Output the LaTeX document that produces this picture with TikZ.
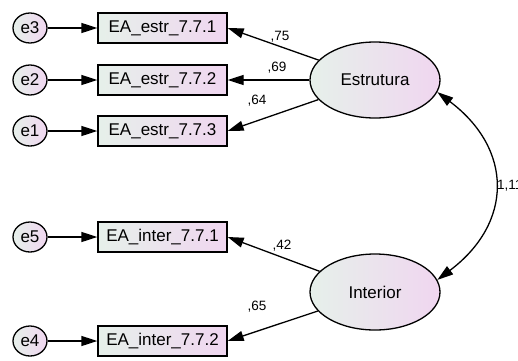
\documentclass[tikz,border=0pt]{standalone}
\usepackage{fontspec}
\setmainfont{Liberation Sans}
\usetikzlibrary{arrows.meta,shapes.geometric}
\definecolor{fillL}{HTML}{E6F0EA}
\definecolor{fillM}{HTML}{E6E3F5}
\definecolor{fillR}{HTML}{F0D6F0}

\begin{document}
\begin{tikzpicture}[x=1pt, y=1pt,
  amosfill/.style={left color=fillL, middle color=fillM, right color=fillR},
  errvar/.style={ellipse, draw, line width=1.3pt, amosfill, inner sep=0pt,
    minimum width=34pt, minimum height=30pt, font=\fontsize{17}{20}\selectfont},
  obsvar/.style={rectangle, draw, line width=1.3pt, amosfill, inner sep=0pt,
    minimum width=129pt, minimum height=30pt, font=\fontsize{17}{20}\selectfont},
  latvar/.style={ellipse, draw, line width=1.3pt, amosfill, inner sep=0pt,
    minimum width=130pt, minimum height=76pt, font=\fontsize{17}{20}\selectfont},
  regarrow/.style={line width=1.3pt, -{Triangle[length=16pt, width=10pt]}},
  covarrow/.style={line width=1.3pt, {Triangle[length=16pt, width=10pt]}-{Triangle[length=16pt, width=10pt]}},
  coef/.style={inner sep=0pt, font=\fontsize{13.5}{16}\selectfont}]
  \useasboundingbox (0,0) rectangle (518,360);

  % errors
  \node[errvar] (e3) at (30,332) {e3};
  \node[errvar] (e2) at (30,280) {e2};
  \node[errvar] (e1) at (30,229) {e1};
  \node[errvar] (e5) at (30,123) {e5};
  \node[errvar] (e4) at (30,19) {e4};

  % indicators
  \node[obsvar] (estr1) at (162.5,332) {EA\_estr\_7.7.1};
  \node[obsvar] (estr2) at (162.5,280) {EA\_estr\_7.7.2};
  \node[obsvar] (estr3) at (162.5,229) {EA\_estr\_7.7.3};
  \node[obsvar] (inter1) at (162.5,123) {EA\_inter\_7.7.1};
  \node[obsvar] (inter2) at (162.5,19) {EA\_inter\_7.7.2};

  % factors
  \node[latvar] (estr) at (375,280) {Estrutura};
  \node[latvar] (inter) at (375,68) {Interior};

  \draw[regarrow] (e3) -- (estr1);
  \draw[regarrow] (e2) -- (estr2);
  \draw[regarrow] (e1) -- (estr3);
  \draw[regarrow] (e5) -- (inter1);
  \draw[regarrow] (e4) -- (inter2);

  \draw[regarrow] (estr) -- (estr1.east);
  \draw[regarrow] (estr) -- (estr2.east);
  \draw[regarrow] (estr) -- (estr3.east);
  \draw[regarrow] (inter) -- (inter1.east);
  \draw[regarrow] (inter) -- (inter2.east);

  \draw[covarrow] (estr.-11) .. controls +(-37:95) and +(37:95) .. (inter.11);

  \node[coef] (l1) at (280,323) {,75};
  \node[coef] (l2) at (277,292) {,69};
  \node[coef] (l3) at (257,259) {,64};
  \node[coef] (l4) at (282,114) {,42};
  \node[coef] (l5) at (257,53) {,65};
  \node[coef, anchor=west] (lc) at (497,174) {1,11};
\end{tikzpicture}
\end{document}
